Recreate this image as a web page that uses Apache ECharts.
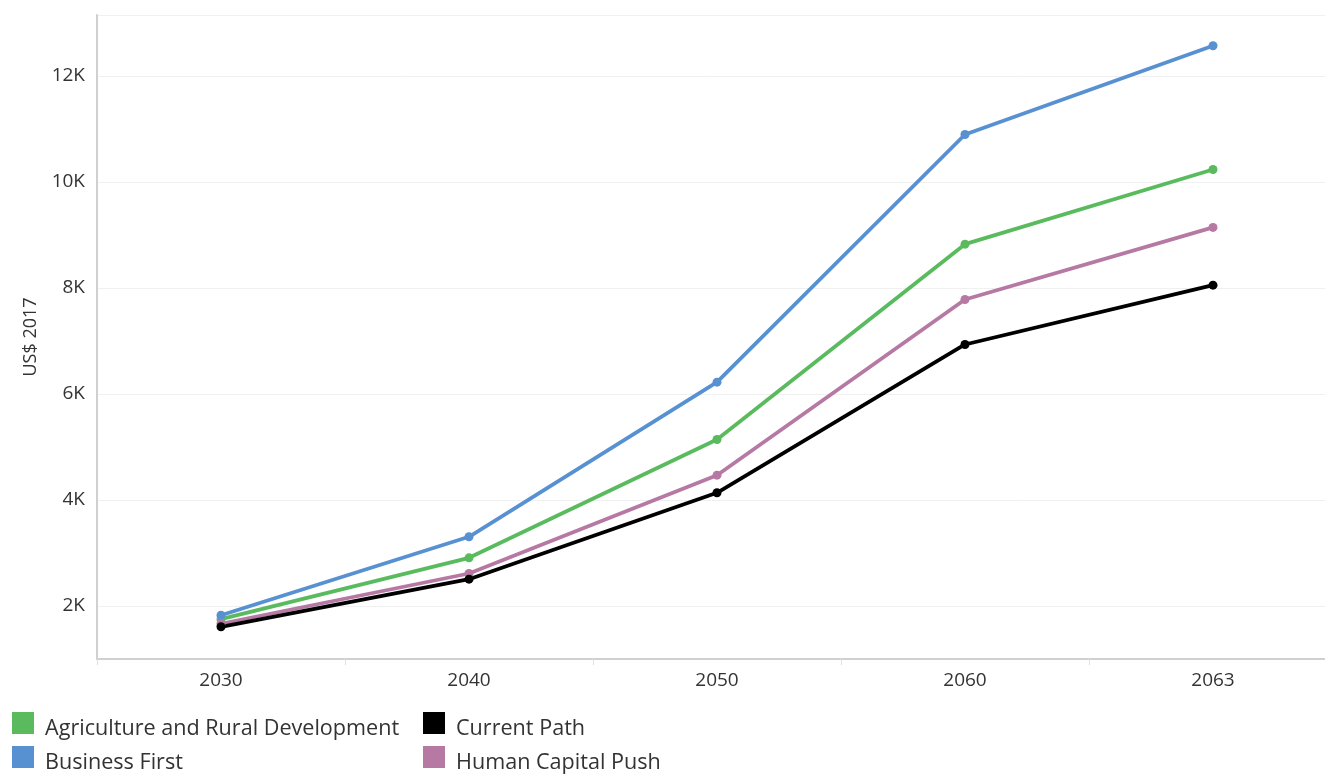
<!DOCTYPE html>
<html>
<head>
<meta charset="utf-8">
<script src="https://cdn.jsdelivr.net/npm/echarts@6/dist/echarts.min.js"></script>
<style>
html,body{margin:0;padding:0;background:#fff;overflow:hidden;}
#chart{width:1325px;height:774px;}
</style>
</head>
<body>
<div id="chart"></div>
<script>
const categories = ['2030', '2040', '2050', '2060', '2063'];
const agriculture = [1751, 2909, 5142, 8826, 10236];
const businessFirst = [1826, 3306, 6223, 10896, 12570];
const currentPath = [1608, 2506, 4136, 6934, 8053];
const humanCapital = [1665, 2613, 4468, 7783, 9142];
const yAxisName = 'US$ 2017';

const font = '"Open Sans", "Noto Sans", sans-serif';
const colors = {
  agri: '#5abb5e',
  biz: '#5891d1',
  cur: '#000000',
  hum: '#b679a4'
};

function mkSeries(name, data, color) {
  return {
    name: name,
    type: 'line',
    data: data,
    symbol: 'circle',
    symbolSize: 9,
    lineStyle: { width: 3.8, color: color },
    itemStyle: { color: color },
    emphasis: { disabled: true }
  };
}

const col1 = ['Agriculture and Rural Development', 'Business First'];
const col2 = ['Current Path', 'Human Capital Push'];

function iconLegend(names, left) {
  return {
    data: names, orient: 'vertical', left: left, top: 712, height: 120, padding: 0,
    itemWidth: 22, itemHeight: 22, itemGap: 12, icon: 'rect',
    formatter: function () { return ''; },
    textStyle: { fontSize: 1 },
    selectedMode: false
  };
}
function textLegend(names, left) {
  return {
    data: names, orient: 'vertical', left: left, top: 717, height: 120, padding: 0,
    itemWidth: 1, itemHeight: 1, itemGap: 10, icon: 'rect',
    itemStyle: { color: 'rgba(0,0,0,0)', borderWidth: 0 },
    lineStyle: { color: 'rgba(0,0,0,0)', width: 0 },
    textStyle: { fontFamily: font, fontSize: 21.6, color: '#333', lineHeight: 24 },
    selectedMode: false
  };
}

const chart = echarts.init(document.getElementById('chart'));
chart.setOption({
  animation: false,
  textStyle: { fontFamily: font },
  grid: { left: 97, width: 1240, top: 15, bottom: 115, outerBoundsMode: 'none', containLabel: false },
  legend: [
    iconLegend(col1, 12),
    iconLegend(col2, 423),
    textLegend(col1, 39),
    textLegend(col2, 450)
  ],
  xAxis: {
    type: 'category',
    data: categories,
    boundaryGap: true,
    axisLine: { lineStyle: { color: '#d0d0d0', width: 2 } },
    axisTick: { show: true, length: 6, lineStyle: { color: '#e0e0e0' } },
    axisLabel: { color: '#333', fontSize: 19, margin: 12, fontFamily: font },
    splitLine: { show: false }
  },
  yAxis: {
    type: 'value',
    min: 1000,
    max: 13150,
    interval: 1000,
    name: yAxisName,
    nameLocation: 'middle',
    nameGap: 57,
    nameRotate: 90,
    nameTextStyle: { color: '#333', fontSize: 18, fontFamily: font },
    axisLine: { show: true, lineStyle: { color: '#d0d0d0', width: 2 } },
    axisTick: { show: false },
    axisLabel: {
      color: '#333', fontSize: 19, margin: 12, fontFamily: font,
      formatter: function (v) { return (v % 2000 === 0 && v <= 12000) ? (v / 1000) + 'K' : ''; }
    },
    splitLine: { show: true, lineStyle: { color: ['rgba(0,0,0,0)', '#f0f0f0'], width: 1 } }
  },
  series: [
    mkSeries('Agriculture and Rural Development', agriculture, colors.agri),
    mkSeries('Business First', businessFirst, colors.biz),
    mkSeries('Human Capital Push', humanCapital, colors.hum),
    mkSeries('Current Path', currentPath, colors.cur)
  ]
});
</script>
</body>
</html>
